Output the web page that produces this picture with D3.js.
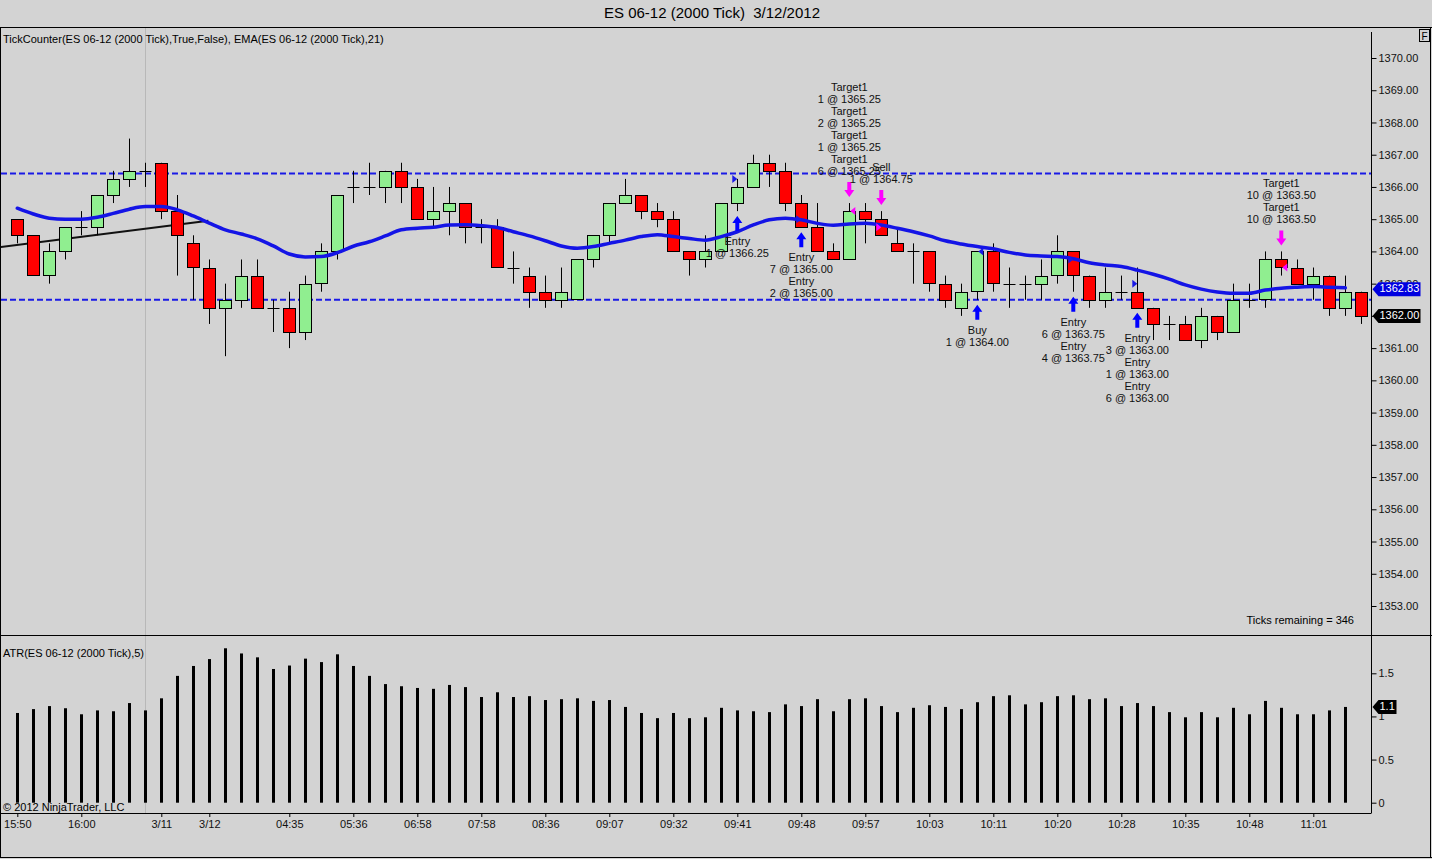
<!DOCTYPE html>
<html>
<head>
<meta charset="utf-8">
<script src="https://cdn.jsdelivr.net/npm/d3@7/dist/d3.min.js"></script>
<style>
  body { margin: 0; background: #d3d3d3; }
  text { font-family: "Liberation Sans", Arial, sans-serif; }
</style>
</head>
<body>
<div id="chart"></div>
<script>
// 2000 tick bars, ES 06-12
const opens = [
  1365.00, 1364.50, 1363.25, 1364.00, 1364.75, 1364.75, 1365.75, 1366.25, 1366.50, 1366.75,
  1365.25, 1364.25, 1363.50, 1362.25, 1362.50, 1363.25, 1362.25, 1362.25, 1361.50, 1363.00,
  1364.00, 1366.00, 1366.00, 1366.00, 1366.50, 1366.00, 1365.00, 1365.25, 1365.50, 1364.75,
  1364.75, 1363.50, 1363.25, 1362.75, 1362.50, 1362.50, 1363.75, 1364.50, 1365.50, 1365.75,
  1365.25, 1365.00, 1364.00, 1363.75, 1364.00, 1365.50, 1366.00, 1366.75, 1366.50, 1365.50,
  1364.75, 1364.00, 1363.75, 1365.25, 1365.00, 1364.25, 1364.00, 1364.00, 1363.00, 1362.25,
  1362.75, 1364.00, 1363.00, 1363.00, 1363.00, 1363.25, 1364.00, 1363.25, 1362.50, 1362.75,
  1362.75, 1362.25, 1361.75, 1361.75, 1361.25, 1362.00, 1361.50, 1362.50, 1362.50, 1363.75,
  1363.50, 1363.00, 1363.25, 1362.25, 1362.75
];
const highs = [
  1365.00, 1364.50, 1364.25, 1364.75, 1365.25, 1365.75, 1366.50, 1367.50, 1366.75, 1366.75,
  1365.75, 1364.50, 1363.75, 1363.00, 1363.75, 1363.75, 1362.50, 1362.75, 1363.25, 1364.25,
  1365.75, 1366.50, 1366.75, 1366.50, 1366.75, 1366.25, 1366.00, 1366.00, 1365.50, 1365.00,
  1365.00, 1364.00, 1363.50, 1363.25, 1363.50, 1363.75, 1364.50, 1365.50, 1366.25, 1365.75,
  1365.50, 1365.25, 1364.00, 1364.50, 1365.50, 1366.25, 1367.00, 1367.00, 1366.75, 1365.75,
  1365.50, 1364.25, 1365.50, 1365.50, 1365.25, 1364.75, 1364.25, 1364.00, 1363.25, 1363.00,
  1364.00, 1364.25, 1363.50, 1363.25, 1363.75, 1364.50, 1364.00, 1363.25, 1363.50, 1363.25,
  1363.50, 1362.25, 1362.00, 1362.00, 1362.25, 1362.00, 1363.00, 1363.00, 1364.00, 1364.00,
  1363.75, 1363.50, 1363.25, 1363.25, 1362.75
];
const lows = [
  1364.25, 1363.25, 1363.00, 1363.75, 1364.50, 1364.50, 1365.50, 1366.00, 1366.00, 1365.00,
  1363.25, 1362.50, 1361.75, 1360.75, 1362.25, 1362.25, 1361.50, 1361.00, 1361.25, 1362.75,
  1363.75, 1365.50, 1365.75, 1365.50, 1365.50, 1365.00, 1364.75, 1364.50, 1364.25, 1364.25,
  1363.50, 1363.00, 1362.25, 1362.25, 1362.25, 1362.50, 1363.50, 1364.25, 1365.50, 1365.00,
  1364.75, 1364.00, 1363.25, 1363.50, 1364.00, 1365.25, 1366.00, 1366.00, 1365.25, 1364.75,
  1364.00, 1363.75, 1363.75, 1364.25, 1364.50, 1364.00, 1363.00, 1362.75, 1362.25, 1362.00,
  1362.50, 1362.75, 1362.25, 1362.50, 1362.50, 1363.00, 1362.75, 1362.25, 1362.25, 1362.50,
  1362.25, 1361.25, 1361.25, 1361.25, 1361.00, 1361.25, 1361.50, 1362.25, 1362.25, 1363.25,
  1363.00, 1362.50, 1362.00, 1362.00, 1361.75
];
const closes = [
  1364.50, 1363.25, 1364.00, 1364.75, 1364.75, 1365.75, 1366.25, 1366.50, 1366.50, 1365.25,
  1364.50, 1363.50, 1362.25, 1362.50, 1363.25, 1362.25, 1362.25, 1361.50, 1363.00, 1364.00,
  1365.75, 1366.00, 1366.00, 1366.50, 1366.00, 1365.00, 1365.25, 1365.50, 1364.75, 1364.75,
  1363.50, 1363.50, 1362.75, 1362.50, 1362.75, 1363.75, 1364.50, 1365.50, 1365.75, 1365.25,
  1365.00, 1364.00, 1363.75, 1364.00, 1365.50, 1366.00, 1366.75, 1366.50, 1365.50, 1364.75,
  1364.00, 1363.75, 1365.25, 1365.00, 1364.50, 1364.00, 1364.00, 1363.00, 1362.50, 1362.75,
  1364.00, 1363.00, 1363.00, 1363.00, 1363.25, 1364.00, 1363.25, 1362.50, 1362.75, 1362.75,
  1362.25, 1361.75, 1361.75, 1361.25, 1362.00, 1361.50, 1362.50, 1362.50, 1363.75, 1363.50,
  1363.00, 1363.25, 1362.25, 1362.75, 1362.00
];

// EMA(21), last bar has none yet
const ema = [
  1365.34, 1365.16, 1365.03, 1365.00, 1365.00, 1365.06, 1365.18, 1365.31, 1365.39, 1365.39,
  1365.29, 1365.10, 1364.88, 1364.67, 1364.54, 1364.39, 1364.17, 1363.92, 1363.83, 1363.84,
  1363.96, 1364.16, 1364.30, 1364.48, 1364.67, 1364.72, 1364.75, 1364.82, 1364.83, 1364.80,
  1364.74, 1364.61, 1364.48, 1364.33, 1364.17, 1364.10, 1364.15, 1364.25, 1364.35, 1364.46,
  1364.52, 1364.46, 1364.40, 1364.35, 1364.46, 1364.61, 1364.82, 1364.98, 1365.03, 1364.98,
  1364.87, 1364.81, 1364.85, 1364.87, 1364.82, 1364.72, 1364.61, 1364.48, 1364.33, 1364.23,
  1364.15, 1364.08, 1363.97, 1363.89, 1363.86, 1363.84, 1363.77, 1363.65, 1363.58, 1363.53,
  1363.42, 1363.29, 1363.14, 1362.96, 1362.83, 1362.74, 1362.70, 1362.70, 1362.80, 1362.86,
  1362.89, 1362.91, 1362.89, 1362.87
];
const emaLast = 1362.83;

// ATR(5)
const atr = [
  1.04, 1.085, 1.12, 1.095, 1.025, 1.07, 1.06, 1.155, 1.07, 1.21,
  1.47, 1.585, 1.665, 1.79, 1.73, 1.685, 1.55, 1.59, 1.67, 1.63,
  1.72, 1.585, 1.47, 1.375, 1.35, 1.33, 1.32, 1.365, 1.34, 1.225,
  1.28, 1.225, 1.235, 1.19, 1.20, 1.21, 1.18, 1.19, 1.11, 1.04,
  0.98, 1.04, 0.98, 0.99, 1.10, 1.07, 1.06, 1.05, 1.14, 1.12,
  1.20, 1.06, 1.20, 1.21, 1.12, 1.05, 1.10, 1.13, 1.11, 1.085,
  1.165, 1.235, 1.245, 1.14, 1.165, 1.235, 1.245, 1.20, 1.21, 1.12,
  1.155, 1.12, 1.05, 0.99, 1.05, 0.99, 1.10, 1.025, 1.18, 1.10,
  1.025, 1.025, 1.07, 1.11
];

const timeBars = [0, 4, 9, 12, 17, 21, 25, 29, 33, 37, 41, 45, 49, 53, 57, 61, 65, 69, 73, 77, 81];
const timeLabels = ["15:50", "16:00", "3/11", "3/12", "04:35", "05:36", "06:58", "07:58", "08:36", "09:07",
  "09:32", "09:41", "09:48", "09:57", "10:03", "10:11", "10:20", "10:28", "10:35", "10:48", "11:01"];
const sessionBar = 8;

const priceTicks = d3.range(1353, 1371, 1);
const atrTicks = [0, 0.5, 1, 1.5];

const hLines = [1366.42, 1362.5];
const trendBars = [-1.08, 11.94];
const trendPrices = [1364.13, 1364.95];

// trade signals (arrow + text)
const signalBars = [45, 49, 52, 54, 60, 66, 70, 79];
const signalSide = ["buy", "buy", "sell", "sell", "buy", "buy", "buy", "sell"];
const signalText = [
  ["Entry", "1 @ 1366.25"],
  ["Entry", "7 @ 1365.00", "Entry", "2 @ 1365.00"],
  ["Target1", "1 @ 1365.25", "Target1", "2 @ 1365.25", "Target1", "1 @ 1365.25", "Target1", "6 @ 1365.25"],
  ["Sell", "1 @ 1364.75"],
  ["Buy", "1 @ 1364.00"],
  ["Entry", "6 @ 1363.75", "Entry", "4 @ 1363.75"],
  ["Entry", "3 @ 1363.00", "Entry", "1 @ 1363.00", "Entry", "6 @ 1363.00"],
  ["Target1", "10 @ 1363.50", "Target1", "10 @ 1363.50"]
];
// execution markers
const fillPrices = [1366.25, 1365.00, 1365.25, 1364.75, 1364.00, 1363.75, 1363.00, 1363.50];
const fillIsEntry = [true, true, false, true, false, true, true, false];

const ticksRemaining = 346;

const W = 1432, H = 859;
const plotL = 1, plotR = 1371.5, mainTop = 27, mainBot = 635, atrBot = 813;

const svg = d3.select("#chart").append("svg")
  .attr("width", W).attr("height", H)
  .style("display", "block");

svg.append("rect").attr("width", W).attr("height", H).attr("fill", "#d3d3d3");

const x = d3.scaleLinear().domain([0, 84]).range([17.3, 1361.3]);
const y = d3.scaleLinear().domain([1353, 1370]).range([606, 58]);
const ya = d3.scaleLinear().domain([0, 1.5]).range([802.7, 673.3]);
const px = v => Math.round(v) + 0.5;

svg.append("clipPath").attr("id", "clipMain")
  .append("rect").attr("x", plotL).attr("y", mainTop + 1)
  .attr("width", plotR - plotL).attr("height", mainBot - mainTop - 1);

// title
svg.append("text")
  .attr("x", 712).attr("y", 18)
  .attr("text-anchor", "middle")
  .style("white-space", "pre")
  .attr("font-size", 15)
  .text("ES 06-12 (2000 Tick)  3/12/2012");

// session break
svg.append("line")
  .attr("x1", px(x(sessionBar))).attr("x2", px(x(sessionBar)))
  .attr("y1", mainTop).attr("y2", atrBot)
  .attr("stroke", "#b8b8b8").attr("stroke-width", 1);

const main = svg.append("g").attr("clip-path", "url(#clipMain)");

// horizontal dashed lines
main.selectAll(".hline").data(hLines).join("line")
  .attr("x1", plotL).attr("x2", plotR)
  .attr("y1", d => y(d)).attr("y2", d => y(d))
  .attr("stroke", "#1a1ae6").attr("stroke-width", 2)
  .attr("stroke-dasharray", "6,3");

// trend line
main.append("line")
  .attr("x1", x(trendBars[0])).attr("y1", y(trendPrices[0]))
  .attr("x2", x(trendBars[1])).attr("y2", y(trendPrices[1]))
  .attr("stroke", "#111").attr("stroke-width", 2);

// candles
const bars = d3.range(opens.length);
main.selectAll(".wick").data(bars).join("line")
  .attr("x1", i => px(x(i))).attr("x2", i => px(x(i)))
  .attr("y1", i => y(highs[i])).attr("y2", i => y(lows[i]))
  .attr("stroke", "#000").attr("stroke-width", 1);

main.selectAll(".body").data(bars.filter(i => opens[i] !== closes[i])).join("rect")
  .attr("x", i => px(x(i) - 6))
  .attr("width", 12)
  .attr("y", i => Math.round(y(Math.max(opens[i], closes[i]))) + 0.5)
  .attr("height", i => Math.round(Math.abs(y(opens[i]) - y(closes[i]))))
  .attr("fill", i => closes[i] > opens[i] ? "#90ee90" : "#ff0000")
  .attr("stroke", "#000").attr("stroke-width", 1);

main.selectAll(".doji").data(bars.filter(i => opens[i] === closes[i])).join("line")
  .attr("x1", i => px(x(i) - 6)).attr("x2", i => px(x(i) + 6))
  .attr("y1", i => Math.round(y(opens[i])) + 0.5).attr("y2", i => Math.round(y(opens[i])) + 0.5)
  .attr("stroke", "#000").attr("stroke-width", 1);

// EMA
main.append("path")
  .datum(ema)
  .attr("fill", "none")
  .attr("stroke", "#1414e6").attr("stroke-width", 3.5)
  .attr("stroke-linejoin", "round").attr("stroke-linecap", "round")
  .attr("d", d3.line().x((d, i) => x(i)).y(d => y(d)).curve(d3.curveMonotoneX));

// execution markers
signalBars.forEach((b, k) => {
  const cx = x(b), cy = y(fillPrices[k]);
  const col = signalSide[k] === "buy" ? "#1a1ae6" : "#ff00ff";
  let pts;
  if (fillIsEntry[k]) pts = [[cx - 5, cy - 4], [cx, cy], [cx - 5, cy + 4]];
  else pts = [[cx + 6, cy - 4], [cx + 1, cy], [cx + 6, cy + 4]];
  main.append("path").attr("d", "M" + pts.join("L") + "Z").attr("fill", col);
});

// signal arrows + texts
const lineGap = 12;
signalBars.forEach((b, k) => {
  const cx = x(b);
  const buy = signalSide[k] === "buy";
  const col = buy ? "#0000ff" : "#ff00ff";
  const g = main.append("g");
  if (buy) {
    const t = y(lows[b]) + 5;
    g.append("path").attr("fill", col)
      .attr("d", `M${cx},${t}L${cx + 5},${t + 7}L${cx + 2},${t + 7}L${cx + 2},${t + 15}L${cx - 2},${t + 15}L${cx - 2},${t + 7}L${cx - 5},${t + 7}Z`);
    g.selectAll("text").data(signalText[k]).join("text")
      .attr("x", cx).attr("y", (d, j) => t + 26 + j * lineGap)
      .attr("text-anchor", "middle").attr("dominant-baseline", "middle")
      .attr("font-size", 11).attr("fill", "#111")
      .text(d => d);
  } else {
    const t = y(highs[b]) - 6;
    g.append("path").attr("fill", col)
      .attr("d", `M${cx},${t}L${cx + 5},${t - 7}L${cx + 2},${t - 7}L${cx + 2},${t - 15}L${cx - 2},${t - 15}L${cx - 2},${t - 7}L${cx - 5},${t - 7}Z`);
    const n = signalText[k].length;
    g.selectAll("text").data(signalText[k]).join("text")
      .attr("x", cx).attr("y", (d, j) => t - 25 - (n - 1 - j) * lineGap)
      .attr("text-anchor", "middle").attr("dominant-baseline", "middle")
      .attr("font-size", 11).attr("fill", "#111")
      .text(d => d);
  }
});

// indicator labels
svg.append("text").attr("x", 3).attr("y", 43).attr("font-size", 11)
  .text("TickCounter(ES 06-12 (2000 Tick),True,False), EMA(ES 06-12 (2000 Tick),21)");
svg.append("text").attr("x", 1354).attr("y", 624).attr("font-size", 11)
  .attr("text-anchor", "end")
  .text("Ticks remaining = " + ticksRemaining);

// ATR bars
svg.selectAll(".atr").data(atr).join("rect")
  .attr("x", (d, i) => Math.round(x(i)) - 1)
  .attr("width", 3)
  .attr("y", d => ya(d))
  .attr("height", d => ya(0) - ya(d))
  .attr("fill", "#000");

svg.append("text").attr("x", 3).attr("y", 657).attr("font-size", 11)
  .text("ATR(ES 06-12 (2000 Tick),5)");
svg.append("text").attr("x", 3).attr("y", 811).attr("font-size", 11)
  .text("\u00a9 2012 NinjaTrader, LLC");

// frame lines
const frame = svg.append("g").attr("stroke", "#000").attr("stroke-width", 1).attr("fill", "none");
frame.append("line").attr("x1", 0).attr("x2", W).attr("y1", mainTop + 0.5).attr("y2", mainTop + 0.5);
frame.append("line").attr("x1", 0).attr("x2", W).attr("y1", mainBot + 0.5).attr("y2", mainBot + 0.5);
frame.append("line").attr("x1", 0).attr("x2", plotR).attr("y1", atrBot + 0.5).attr("y2", atrBot + 0.5);
frame.append("line").attr("x1", 0).attr("x2", W).attr("y1", H - 1.5).attr("y2", H - 1.5);
frame.append("line").attr("x1", 0.5).attr("x2", 0.5).attr("y1", mainTop).attr("y2", H - 1);
frame.append("line").attr("x1", W - 1.5).attr("x2", W - 1.5).attr("y1", mainTop).attr("y2", H - 1);
frame.append("line").attr("x1", plotR).attr("x2", plotR).attr("y1", 32).attr("y2", atrBot);

// "F" box
svg.append("rect").attr("x", 1419.5).attr("y", 29.5).attr("width", 10).attr("height", 12)
  .attr("fill", "#d3d3d3").attr("stroke", "#000");
svg.append("text").attr("x", 1424.5).attr("y", 39.5).attr("text-anchor", "middle")
  .attr("font-size", 10).text("F");

// price axis
const yAxis = d3.axisRight(y).tickValues(priceTicks).tickSize(5).tickPadding(2)
  .tickFormat(d3.format(".2f"));
svg.append("g").attr("transform", `translate(${plotR},0)`).call(yAxis)
  .call(g => g.select(".domain").remove())
  .call(g => g.selectAll("text").attr("font-size", 11).attr("font-family", null).attr("fill", "#111"));

// ATR axis
const aAxis = d3.axisRight(ya).tickValues(atrTicks).tickSize(5).tickPadding(2)
  .tickFormat(d3.format("~g"));
svg.append("g").attr("transform", `translate(${plotR},0)`).call(aAxis)
  .call(g => g.select(".domain").remove())
  .call(g => g.selectAll("text").attr("font-size", 11).attr("font-family", null).attr("fill", "#111"));

// time axis
const xAxis = d3.axisBottom(x).tickValues(timeBars).tickSize(4).tickPadding(3)
  .tickFormat((d, k) => timeLabels[k]);
svg.append("g").attr("transform", `translate(0,${atrBot})`).call(xAxis)
  .call(g => g.select(".domain").remove())
  .call(g => g.selectAll("text").attr("font-size", 11).attr("font-family", null).attr("fill", "#111"));

// price tags
function tag(cy, label, fill, w) {
  const g = svg.append("g");
  g.append("path").attr("fill", fill)
    .attr("d", `M${plotR + 1},${cy}L${plotR + 7},${cy - 7}L${plotR + w},${cy - 7}L${plotR + w},${cy + 7}L${plotR + 7},${cy + 7}Z`);
  g.append("text").attr("x", plotR + 8).attr("y", cy).attr("dominant-baseline", "middle")
    .attr("font-size", 11).attr("fill", "#fff").text(label);
}
tag(y(emaLast), d3.format(".2f")(emaLast), "#0000e0", 49);
tag(y(closes[closes.length - 1]), d3.format(".2f")(closes[closes.length - 1]), "#000", 49);
tag(ya(atr[atr.length - 1]), d3.format(".1f")(atr[atr.length - 1]), "#000", 25);
</script>
</body>
</html>
